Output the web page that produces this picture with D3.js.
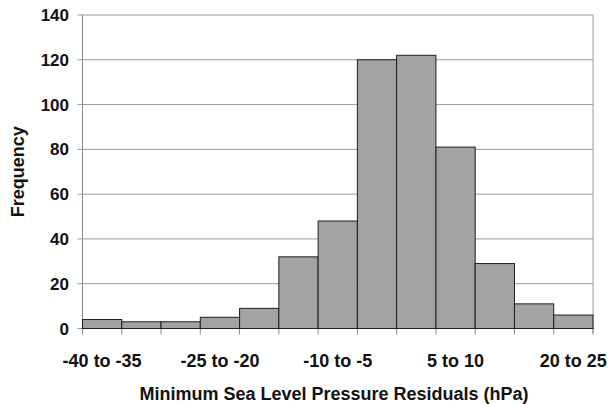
<!DOCTYPE html>
<html><head><meta charset="utf-8">
<script src="https://cdn.jsdelivr.net/npm/d3@7"></script>
<style>body{margin:0;background:#fff}svg{display:block}</style>
</head><body>
<svg id="c" width="608" height="404"></svg>
<script>
const bins = ["-40 to -35","-35 to -30","-30 to -25","-25 to -20","-20 to -15","-15 to -10","-10 to -5","-5 to 0","0 to 5","5 to 10","10 to 15","15 to 20","20 to 25"];
const freq = [4,3,3,5,9,32,48,120,122,81,29,11,6];
const shownLabels = ["-40 to -35","-25 to -20","-10 to -5","5 to 10","20 to 25"];
const yTicks = [0,20,40,60,80,100,120,140];

const svg = d3.select("#c");
const L = 82.5, R = 593, T = 15, B = 328.5;
const x = d3.scaleBand().domain(bins).range([L, R]).padding(0);
const y = d3.scaleLinear().domain([0, 140]).range([B, T]);
const font = "'Liberation Sans', Arial, Helvetica, sans-serif";

// gridlines
svg.append("g").selectAll("line").data(yTicks).join("line")
  .attr("x1", L - 5).attr("x2", R).attr("y1", d => y(d)).attr("y2", d => y(d))
  .attr("stroke", "#9a9a9a").attr("stroke-width", 1);
// left axis and right border
svg.append("line").attr("x1", L).attr("x2", L).attr("y1", T).attr("y2", B + 5).attr("stroke", "#8a8a8a");
svg.append("line").attr("x1", R).attr("x2", R).attr("y1", T).attr("y2", B + 5).attr("stroke", "#9a9a9a");
// bottom ticks at bin boundaries
const edges = bins.map(b => x(b)).concat([R]);
svg.append("g").selectAll("line").data(edges).join("line")
  .attr("x1", d => d).attr("x2", d => d).attr("y1", B).attr("y2", B + 6)
  .attr("stroke", "#8a8a8a");

// bars
svg.append("g").selectAll("rect").data(freq).join("rect")
  .attr("x", (d, i) => x(bins[i])).attr("width", x.bandwidth())
  .attr("y", d => y(d)).attr("height", d => B - y(d))
  .attr("fill", "#a3a3a3").attr("stroke", "#1e1e1e").attr("stroke-width", 1);

// y tick labels
svg.append("g").selectAll("text").data(yTicks).join("text")
  .attr("x", 69).attr("y", d => y(d)).attr("dy", "0.36em")
  .attr("text-anchor", "end").attr("font-family", font).attr("font-weight", "bold")
  .attr("font-size", 17).attr("fill", "#111").text(d => d);

// x tick labels
svg.append("g").selectAll("text").data(shownLabels).join("text")
  .attr("x", d => x(d) + x.bandwidth() / 2).attr("y", 367)
  .attr("text-anchor", "middle").attr("font-family", font).attr("font-weight", "bold")
  .attr("font-size", 18).attr("fill", "#111").text(d => d);

// axis titles
svg.append("text").attr("x", 334).attr("y", 400).attr("text-anchor", "middle")
  .attr("font-family", font).attr("font-weight", "bold").attr("font-size", 18).attr("fill", "#111")
  .text("Minimum Sea Level Pressure Residuals (hPa)");
svg.append("text").attr("transform", "translate(24," + ((T + B) / 2) + ") rotate(-90)")
  .attr("text-anchor", "middle").attr("font-family", font).attr("font-weight", "bold")
  .attr("font-size", 18).attr("fill", "#111").text("Frequency");
</script>
</body></html>
